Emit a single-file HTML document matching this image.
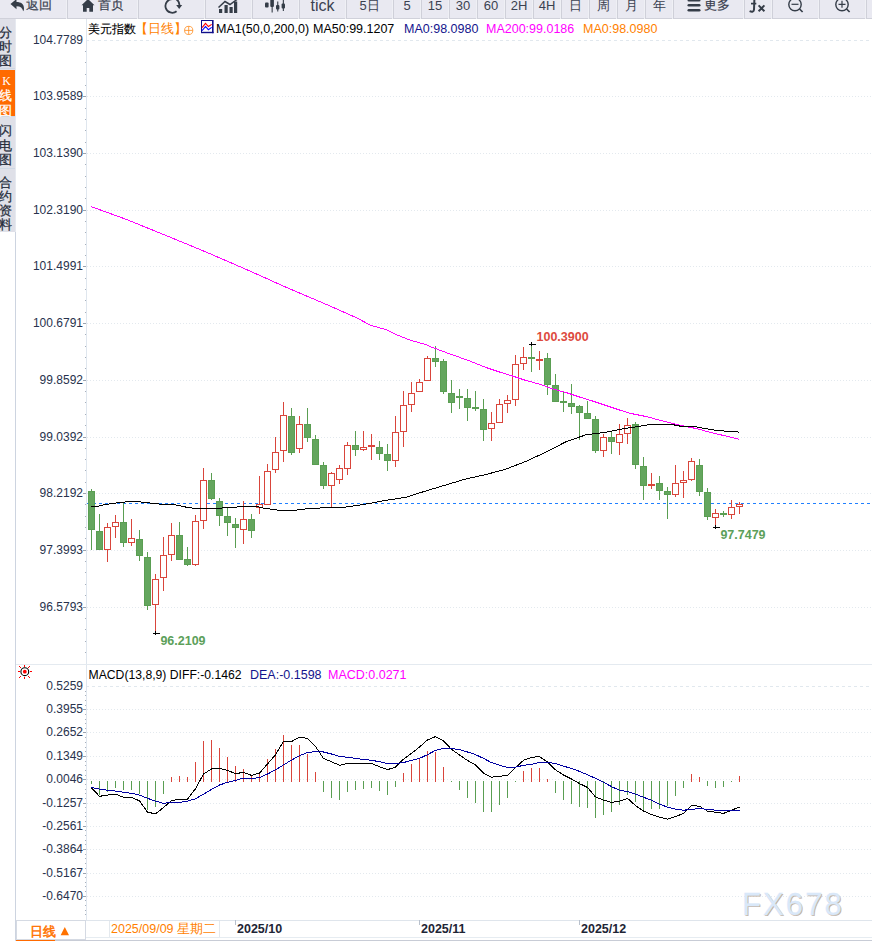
<!DOCTYPE html>
<html><head><meta charset="utf-8">
<style>
html,body{margin:0;padding:0;width:872px;height:941px;overflow:hidden;background:#fff;font-family:"Liberation Sans",sans-serif;}
.t{position:absolute;white-space:nowrap;line-height:1;}
.btn{position:absolute;top:0;height:18px;background:#e9e9f1;border-bottom:1px solid #d0d1da;}
.btn .lb{position:absolute;left:0;right:0;text-align:center;top:-1px;font-size:12.5px;color:#3b4150;white-space:nowrap;}
svg{position:absolute;left:0;top:0;overflow:visible}
</style></head><body>
<svg width="872" height="941" shape-rendering="crispEdges" font-family="Liberation Sans, sans-serif">
<line x1="86" y1="40.5" x2="869" y2="40.5" stroke="#e1e8ee" stroke-dasharray="3 3"/>
<line x1="87" y1="96.5" x2="872" y2="96.5" stroke="#e3e9ee" stroke-dasharray="1 2"/>
<line x1="87" y1="153.5" x2="872" y2="153.5" stroke="#e3e9ee" stroke-dasharray="1 2"/>
<line x1="87" y1="210.5" x2="872" y2="210.5" stroke="#e3e9ee" stroke-dasharray="1 2"/>
<line x1="87" y1="266.5" x2="872" y2="266.5" stroke="#e3e9ee" stroke-dasharray="1 2"/>
<line x1="87" y1="323.5" x2="872" y2="323.5" stroke="#e3e9ee" stroke-dasharray="1 2"/>
<line x1="87" y1="380.5" x2="872" y2="380.5" stroke="#e3e9ee" stroke-dasharray="1 2"/>
<line x1="87" y1="437.5" x2="872" y2="437.5" stroke="#e3e9ee" stroke-dasharray="1 2"/>
<line x1="87" y1="493.5" x2="872" y2="493.5" stroke="#e3e9ee" stroke-dasharray="1 2"/>
<line x1="87" y1="550.5" x2="872" y2="550.5" stroke="#e3e9ee" stroke-dasharray="1 2"/>
<line x1="87" y1="607.5" x2="872" y2="607.5" stroke="#e3e9ee" stroke-dasharray="1 2"/>
<line x1="86" y1="686.5" x2="869" y2="686.5" stroke="#e1e8ee" stroke-dasharray="3 3"/>
<line x1="87" y1="709.5" x2="872" y2="709.5" stroke="#e3e9ee" stroke-dasharray="1 2"/>
<line x1="87" y1="732.5" x2="872" y2="732.5" stroke="#e3e9ee" stroke-dasharray="1 2"/>
<line x1="87" y1="756.5" x2="872" y2="756.5" stroke="#e3e9ee" stroke-dasharray="1 2"/>
<line x1="87" y1="779.5" x2="872" y2="779.5" stroke="#e3e9ee" stroke-dasharray="1 2"/>
<line x1="87" y1="803.5" x2="872" y2="803.5" stroke="#e3e9ee" stroke-dasharray="1 2"/>
<line x1="87" y1="826.5" x2="872" y2="826.5" stroke="#e3e9ee" stroke-dasharray="1 2"/>
<line x1="87" y1="849.5" x2="872" y2="849.5" stroke="#e3e9ee" stroke-dasharray="1 2"/>
<line x1="87" y1="873.5" x2="872" y2="873.5" stroke="#e3e9ee" stroke-dasharray="1 2"/>
<line x1="87" y1="896.5" x2="872" y2="896.5" stroke="#e3e9ee" stroke-dasharray="1 2"/>
<rect x="86" y="19" width="1" height="901" fill="#dfe6ee"/>
<rect x="85" y="51" width="1" height="1" fill="#a8b0bc"/>
<rect x="85" y="62" width="1" height="1" fill="#a8b0bc"/>
<rect x="85" y="74" width="1" height="1" fill="#a8b0bc"/>
<rect x="85" y="85" width="1" height="1" fill="#a8b0bc"/>
<rect x="83" y="96" width="3" height="1" fill="#9aa3b0"/>
<rect x="85" y="108" width="1" height="1" fill="#a8b0bc"/>
<rect x="85" y="119" width="1" height="1" fill="#a8b0bc"/>
<rect x="85" y="130" width="1" height="1" fill="#a8b0bc"/>
<rect x="85" y="142" width="1" height="1" fill="#a8b0bc"/>
<rect x="83" y="153" width="3" height="1" fill="#9aa3b0"/>
<rect x="85" y="164" width="1" height="1" fill="#a8b0bc"/>
<rect x="85" y="176" width="1" height="1" fill="#a8b0bc"/>
<rect x="85" y="187" width="1" height="1" fill="#a8b0bc"/>
<rect x="85" y="198" width="1" height="1" fill="#a8b0bc"/>
<rect x="83" y="210" width="3" height="1" fill="#9aa3b0"/>
<rect x="85" y="221" width="1" height="1" fill="#a8b0bc"/>
<rect x="85" y="232" width="1" height="1" fill="#a8b0bc"/>
<rect x="85" y="244" width="1" height="1" fill="#a8b0bc"/>
<rect x="85" y="255" width="1" height="1" fill="#a8b0bc"/>
<rect x="83" y="266" width="3" height="1" fill="#9aa3b0"/>
<rect x="85" y="278" width="1" height="1" fill="#a8b0bc"/>
<rect x="85" y="289" width="1" height="1" fill="#a8b0bc"/>
<rect x="85" y="300" width="1" height="1" fill="#a8b0bc"/>
<rect x="85" y="312" width="1" height="1" fill="#a8b0bc"/>
<rect x="83" y="323" width="3" height="1" fill="#9aa3b0"/>
<rect x="85" y="334" width="1" height="1" fill="#a8b0bc"/>
<rect x="85" y="346" width="1" height="1" fill="#a8b0bc"/>
<rect x="85" y="357" width="1" height="1" fill="#a8b0bc"/>
<rect x="85" y="368" width="1" height="1" fill="#a8b0bc"/>
<rect x="83" y="380" width="3" height="1" fill="#9aa3b0"/>
<rect x="85" y="391" width="1" height="1" fill="#a8b0bc"/>
<rect x="85" y="402" width="1" height="1" fill="#a8b0bc"/>
<rect x="85" y="414" width="1" height="1" fill="#a8b0bc"/>
<rect x="85" y="425" width="1" height="1" fill="#a8b0bc"/>
<rect x="83" y="437" width="3" height="1" fill="#9aa3b0"/>
<rect x="85" y="448" width="1" height="1" fill="#a8b0bc"/>
<rect x="85" y="459" width="1" height="1" fill="#a8b0bc"/>
<rect x="85" y="470" width="1" height="1" fill="#a8b0bc"/>
<rect x="85" y="482" width="1" height="1" fill="#a8b0bc"/>
<rect x="83" y="493" width="3" height="1" fill="#9aa3b0"/>
<rect x="85" y="504" width="1" height="1" fill="#a8b0bc"/>
<rect x="85" y="516" width="1" height="1" fill="#a8b0bc"/>
<rect x="85" y="527" width="1" height="1" fill="#a8b0bc"/>
<rect x="85" y="538" width="1" height="1" fill="#a8b0bc"/>
<rect x="83" y="550" width="3" height="1" fill="#9aa3b0"/>
<rect x="85" y="561" width="1" height="1" fill="#a8b0bc"/>
<rect x="85" y="572" width="1" height="1" fill="#a8b0bc"/>
<rect x="85" y="584" width="1" height="1" fill="#a8b0bc"/>
<rect x="85" y="595" width="1" height="1" fill="#a8b0bc"/>
<rect x="83" y="607" width="3" height="1" fill="#9aa3b0"/>
<rect x="85" y="618" width="1" height="1" fill="#a8b0bc"/>
<rect x="85" y="629" width="1" height="1" fill="#a8b0bc"/>
<rect x="85" y="641" width="1" height="1" fill="#a8b0bc"/>
<rect x="85" y="652" width="1" height="1" fill="#a8b0bc"/>
<rect x="85" y="691" width="1" height="1" fill="#a8b0bc"/>
<rect x="85" y="695" width="1" height="1" fill="#a8b0bc"/>
<rect x="85" y="700" width="1" height="1" fill="#a8b0bc"/>
<rect x="85" y="705" width="1" height="1" fill="#a8b0bc"/>
<rect x="83" y="709" width="3" height="1" fill="#9aa3b0"/>
<rect x="85" y="714" width="1" height="1" fill="#a8b0bc"/>
<rect x="85" y="719" width="1" height="1" fill="#a8b0bc"/>
<rect x="85" y="723" width="1" height="1" fill="#a8b0bc"/>
<rect x="85" y="728" width="1" height="1" fill="#a8b0bc"/>
<rect x="83" y="732" width="3" height="1" fill="#9aa3b0"/>
<rect x="85" y="737" width="1" height="1" fill="#a8b0bc"/>
<rect x="85" y="742" width="1" height="1" fill="#a8b0bc"/>
<rect x="85" y="747" width="1" height="1" fill="#a8b0bc"/>
<rect x="85" y="751" width="1" height="1" fill="#a8b0bc"/>
<rect x="83" y="756" width="3" height="1" fill="#9aa3b0"/>
<rect x="85" y="761" width="1" height="1" fill="#a8b0bc"/>
<rect x="85" y="765" width="1" height="1" fill="#a8b0bc"/>
<rect x="85" y="770" width="1" height="1" fill="#a8b0bc"/>
<rect x="85" y="775" width="1" height="1" fill="#a8b0bc"/>
<rect x="83" y="779" width="3" height="1" fill="#9aa3b0"/>
<rect x="85" y="784" width="1" height="1" fill="#a8b0bc"/>
<rect x="85" y="789" width="1" height="1" fill="#a8b0bc"/>
<rect x="85" y="793" width="1" height="1" fill="#a8b0bc"/>
<rect x="85" y="798" width="1" height="1" fill="#a8b0bc"/>
<rect x="83" y="803" width="3" height="1" fill="#9aa3b0"/>
<rect x="85" y="807" width="1" height="1" fill="#a8b0bc"/>
<rect x="85" y="812" width="1" height="1" fill="#a8b0bc"/>
<rect x="85" y="816" width="1" height="1" fill="#a8b0bc"/>
<rect x="85" y="821" width="1" height="1" fill="#a8b0bc"/>
<rect x="83" y="826" width="3" height="1" fill="#9aa3b0"/>
<rect x="85" y="830" width="1" height="1" fill="#a8b0bc"/>
<rect x="85" y="835" width="1" height="1" fill="#a8b0bc"/>
<rect x="85" y="840" width="1" height="1" fill="#a8b0bc"/>
<rect x="85" y="844" width="1" height="1" fill="#a8b0bc"/>
<rect x="83" y="849" width="3" height="1" fill="#9aa3b0"/>
<rect x="85" y="854" width="1" height="1" fill="#a8b0bc"/>
<rect x="85" y="858" width="1" height="1" fill="#a8b0bc"/>
<rect x="85" y="863" width="1" height="1" fill="#a8b0bc"/>
<rect x="85" y="868" width="1" height="1" fill="#a8b0bc"/>
<rect x="83" y="873" width="3" height="1" fill="#9aa3b0"/>
<rect x="85" y="877" width="1" height="1" fill="#a8b0bc"/>
<rect x="85" y="882" width="1" height="1" fill="#a8b0bc"/>
<rect x="85" y="886" width="1" height="1" fill="#a8b0bc"/>
<rect x="85" y="891" width="1" height="1" fill="#a8b0bc"/>
<rect x="83" y="896" width="3" height="1" fill="#9aa3b0"/>
<rect x="85" y="900" width="1" height="1" fill="#a8b0bc"/>
<rect x="85" y="905" width="1" height="1" fill="#a8b0bc"/>
<rect x="85" y="910" width="1" height="1" fill="#a8b0bc"/>
<rect x="85" y="914" width="1" height="1" fill="#a8b0bc"/>
<line x1="87" y1="503.5" x2="870" y2="503.5" stroke="#2080ff" stroke-dasharray="3 3"/>
<rect x="91" y="489" width="1" height="61" fill="#5a9e52"/>
<rect x="88" y="491" width="7" height="39" fill="#5a9e52"/>
<rect x="89" y="492" width="5" height="37" fill="#64a65e"/>
<rect x="99" y="514" width="1" height="36" fill="#5a9e52"/>
<rect x="96" y="531" width="7" height="19" fill="#5a9e52"/>
<rect x="97" y="532" width="5" height="17" fill="#64a65e"/>
<rect x="107" y="523" width="1" height="4" fill="#d9453b"/>
<rect x="107" y="550" width="1" height="12" fill="#d9453b"/>
<rect x="104.5" y="527.5" width="6" height="22" fill="#fff" stroke="#d9453b" stroke-width="1"/>
<rect x="115" y="515" width="1" height="7" fill="#d9453b"/>
<rect x="115" y="527" width="1" height="11" fill="#d9453b"/>
<rect x="112.5" y="522.5" width="6" height="4" fill="#fff" stroke="#d9453b" stroke-width="1"/>
<rect x="123" y="503" width="1" height="44" fill="#5a9e52"/>
<rect x="120" y="522" width="7" height="21" fill="#5a9e52"/>
<rect x="121" y="523" width="5" height="19" fill="#64a65e"/>
<rect x="131" y="519" width="1" height="19" fill="#d9453b"/>
<rect x="131" y="543" width="1" height="3" fill="#d9453b"/>
<rect x="128.5" y="538.5" width="6" height="4" fill="#fff" stroke="#d9453b" stroke-width="1"/>
<rect x="139" y="530" width="1" height="31" fill="#5a9e52"/>
<rect x="136" y="539" width="7" height="17" fill="#5a9e52"/>
<rect x="137" y="540" width="5" height="15" fill="#64a65e"/>
<rect x="147" y="552" width="1" height="58" fill="#5a9e52"/>
<rect x="144" y="557" width="7" height="49" fill="#5a9e52"/>
<rect x="145" y="558" width="5" height="47" fill="#64a65e"/>
<rect x="155" y="574" width="1" height="6" fill="#d9453b"/>
<rect x="155" y="605" width="1" height="26" fill="#d9453b"/>
<rect x="152.5" y="579.5" width="6" height="25" fill="#fff" stroke="#d9453b" stroke-width="1"/>
<rect x="163" y="537" width="1" height="18" fill="#d9453b"/>
<rect x="163" y="578" width="1" height="13" fill="#d9453b"/>
<rect x="160.5" y="555.5" width="6" height="22" fill="#fff" stroke="#d9453b" stroke-width="1"/>
<rect x="171" y="523" width="1" height="12" fill="#d9453b"/>
<rect x="171" y="555" width="1" height="6" fill="#d9453b"/>
<rect x="168.5" y="535.5" width="6" height="19" fill="#fff" stroke="#d9453b" stroke-width="1"/>
<rect x="179" y="522" width="1" height="38" fill="#5a9e52"/>
<rect x="176" y="535" width="7" height="25" fill="#5a9e52"/>
<rect x="177" y="536" width="5" height="23" fill="#64a65e"/>
<rect x="187" y="547" width="1" height="19" fill="#5a9e52"/>
<rect x="184" y="559" width="7" height="6" fill="#5a9e52"/>
<rect x="185" y="560" width="5" height="4" fill="#64a65e"/>
<rect x="195" y="515" width="1" height="6" fill="#d9453b"/>
<rect x="195" y="565" width="1" height="1" fill="#d9453b"/>
<rect x="192.5" y="521.5" width="6" height="43" fill="#fff" stroke="#d9453b" stroke-width="1"/>
<rect x="203" y="468" width="1" height="12" fill="#d9453b"/>
<rect x="203" y="521" width="1" height="8" fill="#d9453b"/>
<rect x="200.5" y="480.5" width="6" height="40" fill="#fff" stroke="#d9453b" stroke-width="1"/>
<rect x="211" y="473" width="1" height="27" fill="#5a9e52"/>
<rect x="208" y="480" width="7" height="19" fill="#5a9e52"/>
<rect x="209" y="481" width="5" height="17" fill="#64a65e"/>
<rect x="219" y="498" width="1" height="28" fill="#5a9e52"/>
<rect x="216" y="501" width="7" height="15" fill="#5a9e52"/>
<rect x="217" y="502" width="5" height="13" fill="#64a65e"/>
<rect x="227" y="507" width="1" height="29" fill="#5a9e52"/>
<rect x="224" y="516" width="7" height="7" fill="#5a9e52"/>
<rect x="225" y="517" width="5" height="5" fill="#64a65e"/>
<rect x="235" y="518" width="1" height="30" fill="#5a9e52"/>
<rect x="232" y="524" width="7" height="4" fill="#5a9e52"/>
<rect x="233" y="525" width="5" height="2" fill="#64a65e"/>
<rect x="243" y="501" width="1" height="19" fill="#d9453b"/>
<rect x="243" y="530" width="1" height="14" fill="#d9453b"/>
<rect x="240.5" y="519.5" width="6" height="10" fill="#fff" stroke="#d9453b" stroke-width="1"/>
<rect x="251" y="514" width="1" height="24" fill="#5a9e52"/>
<rect x="248" y="519" width="7" height="12" fill="#5a9e52"/>
<rect x="249" y="520" width="5" height="10" fill="#64a65e"/>
<rect x="259" y="476" width="1" height="28" fill="#d9453b"/>
<rect x="259" y="508" width="1" height="6" fill="#d9453b"/>
<rect x="256.5" y="504.5" width="6" height="3" fill="#fff" stroke="#d9453b" stroke-width="1"/>
<rect x="267" y="464" width="1" height="8" fill="#d9453b"/>
<rect x="264.5" y="471.5" width="6" height="33" fill="#fff" stroke="#d9453b" stroke-width="1"/>
<rect x="275" y="437" width="1" height="15" fill="#d9453b"/>
<rect x="275" y="470" width="1" height="3" fill="#d9453b"/>
<rect x="272.5" y="452.5" width="6" height="17" fill="#fff" stroke="#d9453b" stroke-width="1"/>
<rect x="283" y="402" width="1" height="13" fill="#d9453b"/>
<rect x="283" y="451" width="1" height="11" fill="#d9453b"/>
<rect x="280.5" y="415.5" width="6" height="35" fill="#fff" stroke="#d9453b" stroke-width="1"/>
<rect x="291" y="408" width="1" height="47" fill="#5a9e52"/>
<rect x="288" y="416" width="7" height="37" fill="#5a9e52"/>
<rect x="289" y="417" width="5" height="35" fill="#64a65e"/>
<rect x="299" y="416" width="1" height="8" fill="#d9453b"/>
<rect x="299" y="449" width="1" height="4" fill="#d9453b"/>
<rect x="296.5" y="424.5" width="6" height="24" fill="#fff" stroke="#d9453b" stroke-width="1"/>
<rect x="307" y="408" width="1" height="34" fill="#5a9e52"/>
<rect x="304" y="424" width="7" height="14" fill="#5a9e52"/>
<rect x="305" y="425" width="5" height="12" fill="#64a65e"/>
<rect x="315" y="435" width="1" height="30" fill="#5a9e52"/>
<rect x="312" y="439" width="7" height="26" fill="#5a9e52"/>
<rect x="313" y="440" width="5" height="24" fill="#64a65e"/>
<rect x="323" y="462" width="1" height="27" fill="#5a9e52"/>
<rect x="320" y="465" width="7" height="21" fill="#5a9e52"/>
<rect x="321" y="466" width="5" height="19" fill="#64a65e"/>
<rect x="331" y="472" width="1" height="1" fill="#d9453b"/>
<rect x="331" y="486" width="1" height="22" fill="#d9453b"/>
<rect x="328.5" y="473.5" width="6" height="12" fill="#fff" stroke="#d9453b" stroke-width="1"/>
<rect x="339" y="465" width="1" height="3" fill="#d9453b"/>
<rect x="339" y="480" width="1" height="4" fill="#d9453b"/>
<rect x="336.5" y="468.5" width="6" height="11" fill="#fff" stroke="#d9453b" stroke-width="1"/>
<rect x="347" y="442" width="1" height="3" fill="#d9453b"/>
<rect x="347" y="469" width="1" height="6" fill="#d9453b"/>
<rect x="344.5" y="445.5" width="6" height="23" fill="#fff" stroke="#d9453b" stroke-width="1"/>
<rect x="355" y="431" width="1" height="25" fill="#5a9e52"/>
<rect x="352" y="445" width="7" height="5" fill="#5a9e52"/>
<rect x="353" y="446" width="5" height="3" fill="#64a65e"/>
<rect x="363" y="431" width="1" height="16" fill="#d9453b"/>
<rect x="363" y="450" width="1" height="1" fill="#d9453b"/>
<rect x="360.5" y="447.5" width="6" height="2" fill="#fff" stroke="#d9453b" stroke-width="1"/>
<rect x="371" y="434" width="1" height="26" fill="#d9453b"/>
<rect x="368" y="445" width="7" height="2" fill="#d9453b"/>
<rect x="379" y="441" width="1" height="19" fill="#5a9e52"/>
<rect x="376" y="447" width="7" height="7" fill="#5a9e52"/>
<rect x="377" y="448" width="5" height="5" fill="#64a65e"/>
<rect x="387" y="444" width="1" height="27" fill="#5a9e52"/>
<rect x="384" y="454" width="7" height="7" fill="#5a9e52"/>
<rect x="385" y="455" width="5" height="5" fill="#64a65e"/>
<rect x="395" y="416" width="1" height="16" fill="#d9453b"/>
<rect x="395" y="461" width="1" height="6" fill="#d9453b"/>
<rect x="392.5" y="432.5" width="6" height="28" fill="#fff" stroke="#d9453b" stroke-width="1"/>
<rect x="403" y="391" width="1" height="14" fill="#d9453b"/>
<rect x="403" y="432" width="1" height="15" fill="#d9453b"/>
<rect x="400.5" y="405.5" width="6" height="26" fill="#fff" stroke="#d9453b" stroke-width="1"/>
<rect x="411" y="382" width="1" height="11" fill="#d9453b"/>
<rect x="411" y="405" width="1" height="7" fill="#d9453b"/>
<rect x="408.5" y="393.5" width="6" height="11" fill="#fff" stroke="#d9453b" stroke-width="1"/>
<rect x="419" y="379" width="1" height="3" fill="#d9453b"/>
<rect x="416.5" y="382.5" width="6" height="9" fill="#fff" stroke="#d9453b" stroke-width="1"/>
<rect x="427" y="356" width="1" height="2" fill="#d9453b"/>
<rect x="424.5" y="358.5" width="6" height="22" fill="#fff" stroke="#d9453b" stroke-width="1"/>
<rect x="435" y="346" width="1" height="21" fill="#5a9e52"/>
<rect x="432" y="358" width="7" height="4" fill="#5a9e52"/>
<rect x="433" y="359" width="5" height="2" fill="#64a65e"/>
<rect x="443" y="359" width="1" height="35" fill="#5a9e52"/>
<rect x="440" y="361" width="7" height="31" fill="#5a9e52"/>
<rect x="441" y="362" width="5" height="29" fill="#64a65e"/>
<rect x="451" y="380" width="1" height="33" fill="#5a9e52"/>
<rect x="448" y="393" width="7" height="10" fill="#5a9e52"/>
<rect x="449" y="394" width="5" height="8" fill="#64a65e"/>
<rect x="459" y="389" width="1" height="20" fill="#5a9e52"/>
<rect x="456" y="396" width="7" height="2" fill="#5a9e52"/>
<rect x="467" y="389" width="1" height="32" fill="#5a9e52"/>
<rect x="464" y="398" width="7" height="10" fill="#5a9e52"/>
<rect x="465" y="399" width="5" height="8" fill="#64a65e"/>
<rect x="475" y="391" width="1" height="20" fill="#5a9e52"/>
<rect x="472" y="407" width="7" height="2" fill="#5a9e52"/>
<rect x="483" y="399" width="1" height="42" fill="#5a9e52"/>
<rect x="480" y="409" width="7" height="21" fill="#5a9e52"/>
<rect x="481" y="410" width="5" height="19" fill="#64a65e"/>
<rect x="491" y="412" width="1" height="11" fill="#d9453b"/>
<rect x="491" y="429" width="1" height="12" fill="#d9453b"/>
<rect x="488.5" y="423.5" width="6" height="5" fill="#fff" stroke="#d9453b" stroke-width="1"/>
<rect x="499" y="399" width="1" height="5" fill="#d9453b"/>
<rect x="496.5" y="404.5" width="6" height="18" fill="#fff" stroke="#d9453b" stroke-width="1"/>
<rect x="507" y="395" width="1" height="6" fill="#d9453b"/>
<rect x="507" y="404" width="1" height="9" fill="#d9453b"/>
<rect x="504.5" y="400.5" width="6" height="3" fill="#fff" stroke="#d9453b" stroke-width="1"/>
<rect x="515" y="355" width="1" height="9" fill="#d9453b"/>
<rect x="515" y="400" width="1" height="6" fill="#d9453b"/>
<rect x="512.5" y="364.5" width="6" height="35" fill="#fff" stroke="#d9453b" stroke-width="1"/>
<rect x="523" y="347" width="1" height="10" fill="#d9453b"/>
<rect x="523" y="364" width="1" height="6" fill="#d9453b"/>
<rect x="520.5" y="357.5" width="6" height="6" fill="#fff" stroke="#d9453b" stroke-width="1"/>
<rect x="531" y="344" width="1" height="28" fill="#5a9e52"/>
<rect x="528" y="357" width="7" height="2" fill="#5a9e52"/>
<rect x="539" y="351" width="1" height="19" fill="#d9453b"/>
<rect x="536" y="359" width="7" height="2" fill="#d9453b"/>
<rect x="547" y="353" width="1" height="42" fill="#5a9e52"/>
<rect x="544" y="358" width="7" height="27" fill="#5a9e52"/>
<rect x="545" y="359" width="5" height="25" fill="#64a65e"/>
<rect x="555" y="374" width="1" height="28" fill="#5a9e52"/>
<rect x="552" y="385" width="7" height="17" fill="#5a9e52"/>
<rect x="553" y="386" width="5" height="15" fill="#64a65e"/>
<rect x="563" y="391" width="1" height="21" fill="#5a9e52"/>
<rect x="560" y="401" width="7" height="2" fill="#5a9e52"/>
<rect x="571" y="384" width="1" height="30" fill="#5a9e52"/>
<rect x="568" y="403" width="7" height="4" fill="#5a9e52"/>
<rect x="569" y="404" width="5" height="2" fill="#64a65e"/>
<rect x="579" y="405" width="1" height="35" fill="#5a9e52"/>
<rect x="576" y="406" width="7" height="7" fill="#5a9e52"/>
<rect x="577" y="407" width="5" height="5" fill="#64a65e"/>
<rect x="587" y="401" width="1" height="18" fill="#5a9e52"/>
<rect x="584" y="413" width="7" height="6" fill="#5a9e52"/>
<rect x="585" y="414" width="5" height="4" fill="#64a65e"/>
<rect x="595" y="416" width="1" height="37" fill="#5a9e52"/>
<rect x="592" y="419" width="7" height="32" fill="#5a9e52"/>
<rect x="593" y="420" width="5" height="30" fill="#64a65e"/>
<rect x="603" y="434" width="1" height="3" fill="#d9453b"/>
<rect x="603" y="451" width="1" height="6" fill="#d9453b"/>
<rect x="600.5" y="437.5" width="6" height="13" fill="#fff" stroke="#d9453b" stroke-width="1"/>
<rect x="611" y="432" width="1" height="22" fill="#5a9e52"/>
<rect x="608" y="437" width="7" height="5" fill="#5a9e52"/>
<rect x="609" y="438" width="5" height="3" fill="#64a65e"/>
<rect x="619" y="424" width="1" height="10" fill="#d9453b"/>
<rect x="619" y="443" width="1" height="12" fill="#d9453b"/>
<rect x="616.5" y="434.5" width="6" height="8" fill="#fff" stroke="#d9453b" stroke-width="1"/>
<rect x="627" y="418" width="1" height="7" fill="#d9453b"/>
<rect x="627" y="434" width="1" height="10" fill="#d9453b"/>
<rect x="624.5" y="425.5" width="6" height="8" fill="#fff" stroke="#d9453b" stroke-width="1"/>
<rect x="635" y="422" width="1" height="47" fill="#5a9e52"/>
<rect x="632" y="424" width="7" height="41" fill="#5a9e52"/>
<rect x="633" y="425" width="5" height="39" fill="#64a65e"/>
<rect x="643" y="457" width="1" height="43" fill="#5a9e52"/>
<rect x="640" y="466" width="7" height="20" fill="#5a9e52"/>
<rect x="641" y="467" width="5" height="18" fill="#64a65e"/>
<rect x="651" y="473" width="1" height="16" fill="#d9453b"/>
<rect x="648" y="484" width="7" height="2" fill="#d9453b"/>
<rect x="659" y="476" width="1" height="24" fill="#5a9e52"/>
<rect x="656" y="483" width="7" height="8" fill="#5a9e52"/>
<rect x="657" y="484" width="5" height="6" fill="#64a65e"/>
<rect x="667" y="487" width="1" height="32" fill="#5a9e52"/>
<rect x="664" y="491" width="7" height="4" fill="#5a9e52"/>
<rect x="665" y="492" width="5" height="2" fill="#64a65e"/>
<rect x="675" y="465" width="1" height="18" fill="#d9453b"/>
<rect x="675" y="495" width="1" height="2" fill="#d9453b"/>
<rect x="672.5" y="483.5" width="6" height="11" fill="#fff" stroke="#d9453b" stroke-width="1"/>
<rect x="683" y="471" width="1" height="9" fill="#d9453b"/>
<rect x="683" y="483" width="1" height="15" fill="#d9453b"/>
<rect x="680.5" y="480.5" width="6" height="2" fill="#fff" stroke="#d9453b" stroke-width="1"/>
<rect x="691" y="458" width="1" height="3" fill="#d9453b"/>
<rect x="691" y="480" width="1" height="1" fill="#d9453b"/>
<rect x="688.5" y="461.5" width="6" height="18" fill="#fff" stroke="#d9453b" stroke-width="1"/>
<rect x="699" y="459" width="1" height="37" fill="#5a9e52"/>
<rect x="696" y="465" width="7" height="27" fill="#5a9e52"/>
<rect x="697" y="466" width="5" height="25" fill="#64a65e"/>
<rect x="707" y="488" width="1" height="32" fill="#5a9e52"/>
<rect x="704" y="492" width="7" height="25" fill="#5a9e52"/>
<rect x="705" y="493" width="5" height="23" fill="#64a65e"/>
<rect x="715" y="509" width="1" height="4" fill="#d9453b"/>
<rect x="715" y="518" width="1" height="9" fill="#d9453b"/>
<rect x="712.5" y="513.5" width="6" height="4" fill="#fff" stroke="#d9453b" stroke-width="1"/>
<rect x="723" y="511" width="1" height="6" fill="#5a9e52"/>
<rect x="720" y="513" width="7" height="2" fill="#5a9e52"/>
<rect x="731" y="500" width="1" height="7" fill="#d9453b"/>
<rect x="731" y="515" width="1" height="4" fill="#d9453b"/>
<rect x="728.5" y="507.5" width="6" height="7" fill="#fff" stroke="#d9453b" stroke-width="1"/>
<rect x="739" y="502" width="1" height="2" fill="#d9453b"/>
<rect x="739" y="507" width="1" height="7" fill="#d9453b"/>
<rect x="736.5" y="504.5" width="6" height="2" fill="#fff" stroke="#d9453b" stroke-width="1"/>
<rect x="153" y="633" width="7" height="1.2" fill="#000"/>
<rect x="155" y="631" width="1.2" height="4" fill="#000"/>
<rect x="713" y="527" width="7" height="1.2" fill="#000"/>
<rect x="715" y="525" width="1.2" height="4" fill="#000"/>
<rect x="529" y="344" width="7" height="1.2" fill="#000"/>
<rect x="531" y="342" width="1.2" height="4" fill="#000"/>
<polyline points="91,206.5 126,219.3 166,235.5 206,252 246,269.3 286,287.2 326,304.3 356,317.5 371,325.5 386,329.5 396,334.5 411,340.5 426,344.5 430,346.5 446,352.5 460,357.5 471,361.5 486,367.5 501,372.5 511,375.5 526,380.5 541,384.5 551,388.5 566,392.5 581,397.5 591,400.5 606,405.5 621,410.5 631,413.5 646,416.5 661,420.5 681,425.5 696,428.5 711,432.5 739,439.2" fill="none" stroke="#ff00ff" stroke-width="1"/>
<polyline points="91,506.4 98,506.3 106,504.4 119.5,502.5 134.5,501.2 146,502.6 160.3,504.2 175.4,504.9 186.4,507.2 193.3,508.2 206,508.2 230.8,507.9 239,506.8 255.5,506.2 263.8,508.2 272,509.3 280.3,510.4 294,510.4 310.5,508.3 326,507.8 343,507.4 366,504.1 386,500.3 406,497.3 426,490.9 446,484.9 466,478.9 486,474.5 506,469.1 526,461.3 546,452.1 566,441.7 586,434.8 606,432.3 626,428.3 646,425.3 650,424.4 672,424.5 680,426.1 696,426.9 716,430.4 739,432.1" fill="none" stroke="#000" stroke-width="1"/>
<rect x="91" y="781" width="1" height="3" fill="#5a9e52"/>
<rect x="99" y="781" width="1" height="14" fill="#5a9e52"/>
<rect x="107" y="781" width="1" height="11" fill="#5a9e52"/>
<rect x="115" y="781" width="1" height="7" fill="#5a9e52"/>
<rect x="123" y="781" width="1" height="9" fill="#5a9e52"/>
<rect x="131" y="781" width="1" height="9" fill="#5a9e52"/>
<rect x="139" y="781" width="1" height="13" fill="#5a9e52"/>
<rect x="147" y="781" width="1" height="29" fill="#5a9e52"/>
<rect x="155" y="781" width="1" height="26" fill="#5a9e52"/>
<rect x="163" y="781" width="1" height="13" fill="#5a9e52"/>
<rect x="171" y="777" width="1" height="5" fill="#d9453b"/>
<rect x="179" y="776" width="1" height="6" fill="#d9453b"/>
<rect x="187" y="777" width="1" height="5" fill="#d9453b"/>
<rect x="195" y="762" width="1" height="20" fill="#d9453b"/>
<rect x="203" y="741" width="1" height="41" fill="#d9453b"/>
<rect x="211" y="740" width="1" height="42" fill="#d9453b"/>
<rect x="219" y="748" width="1" height="34" fill="#d9453b"/>
<rect x="227" y="757" width="1" height="25" fill="#d9453b"/>
<rect x="235" y="766" width="1" height="16" fill="#d9453b"/>
<rect x="243" y="769" width="1" height="13" fill="#d9453b"/>
<rect x="251" y="776" width="1" height="6" fill="#d9453b"/>
<rect x="259" y="772" width="1" height="10" fill="#d9453b"/>
<rect x="267" y="759" width="1" height="23" fill="#d9453b"/>
<rect x="275" y="749" width="1" height="33" fill="#d9453b"/>
<rect x="283" y="735" width="1" height="47" fill="#d9453b"/>
<rect x="291" y="745" width="1" height="37" fill="#d9453b"/>
<rect x="299" y="745" width="1" height="37" fill="#d9453b"/>
<rect x="307" y="754" width="1" height="28" fill="#d9453b"/>
<rect x="315" y="772" width="1" height="10" fill="#d9453b"/>
<rect x="323" y="781" width="1" height="11" fill="#5a9e52"/>
<rect x="331" y="781" width="1" height="17" fill="#5a9e52"/>
<rect x="339" y="781" width="1" height="19" fill="#5a9e52"/>
<rect x="347" y="781" width="1" height="11" fill="#5a9e52"/>
<rect x="355" y="781" width="1" height="9" fill="#5a9e52"/>
<rect x="363" y="781" width="1" height="8" fill="#5a9e52"/>
<rect x="371" y="781" width="1" height="7" fill="#5a9e52"/>
<rect x="379" y="781" width="1" height="10" fill="#5a9e52"/>
<rect x="387" y="781" width="1" height="14" fill="#5a9e52"/>
<rect x="395" y="781" width="1" height="6" fill="#5a9e52"/>
<rect x="403" y="773" width="1" height="9" fill="#d9453b"/>
<rect x="411" y="764" width="1" height="18" fill="#d9453b"/>
<rect x="419" y="758" width="1" height="24" fill="#d9453b"/>
<rect x="427" y="751" width="1" height="31" fill="#d9453b"/>
<rect x="435" y="752" width="1" height="30" fill="#d9453b"/>
<rect x="443" y="767" width="1" height="15" fill="#d9453b"/>
<rect x="451" y="781" width="1" height="1" fill="#5a9e52"/>
<rect x="459" y="781" width="1" height="9" fill="#5a9e52"/>
<rect x="467" y="781" width="1" height="17" fill="#5a9e52"/>
<rect x="475" y="781" width="1" height="22" fill="#5a9e52"/>
<rect x="483" y="781" width="1" height="31" fill="#5a9e52"/>
<rect x="491" y="781" width="1" height="31" fill="#5a9e52"/>
<rect x="499" y="781" width="1" height="24" fill="#5a9e52"/>
<rect x="507" y="781" width="1" height="17" fill="#5a9e52"/>
<rect x="515" y="781" width="1" height="1" fill="#5a9e52"/>
<rect x="523" y="771" width="1" height="11" fill="#d9453b"/>
<rect x="531" y="768" width="1" height="14" fill="#d9453b"/>
<rect x="539" y="768" width="1" height="14" fill="#d9453b"/>
<rect x="547" y="779" width="1" height="3" fill="#d9453b"/>
<rect x="555" y="781" width="1" height="12" fill="#5a9e52"/>
<rect x="563" y="781" width="1" height="19" fill="#5a9e52"/>
<rect x="571" y="781" width="1" height="23" fill="#5a9e52"/>
<rect x="579" y="781" width="1" height="26" fill="#5a9e52"/>
<rect x="587" y="781" width="1" height="27" fill="#5a9e52"/>
<rect x="595" y="781" width="1" height="37" fill="#5a9e52"/>
<rect x="603" y="781" width="1" height="34" fill="#5a9e52"/>
<rect x="611" y="781" width="1" height="31" fill="#5a9e52"/>
<rect x="619" y="781" width="1" height="24" fill="#5a9e52"/>
<rect x="627" y="781" width="1" height="14" fill="#5a9e52"/>
<rect x="635" y="781" width="1" height="21" fill="#5a9e52"/>
<rect x="643" y="781" width="1" height="29" fill="#5a9e52"/>
<rect x="651" y="781" width="1" height="28" fill="#5a9e52"/>
<rect x="659" y="781" width="1" height="28" fill="#5a9e52"/>
<rect x="667" y="781" width="1" height="25" fill="#5a9e52"/>
<rect x="675" y="781" width="1" height="15" fill="#5a9e52"/>
<rect x="683" y="781" width="1" height="7" fill="#5a9e52"/>
<rect x="691" y="774" width="1" height="8" fill="#d9453b"/>
<rect x="699" y="777" width="1" height="5" fill="#d9453b"/>
<rect x="707" y="781" width="1" height="5" fill="#5a9e52"/>
<rect x="715" y="781" width="1" height="7" fill="#5a9e52"/>
<rect x="723" y="781" width="1" height="6" fill="#5a9e52"/>
<rect x="731" y="781" width="1" height="1" fill="#5a9e52"/>
<rect x="739" y="776" width="1" height="6" fill="#d9453b"/>
<polyline points="91.5,787.8 99.5,796.3 107.5,795.1 115.5,794.2 123.5,797.2 131.5,797.4 139.5,800.9 147.5,812.1 155.5,813.9 163.5,807.5 171.5,800.5 179.5,799.4 187.5,799.3 195.5,788.7 203.5,774 211.5,769 219.5,768.5 227.5,770.4 235.5,773.6 243.5,772.4 251.5,775.4 259.5,773.1 267.5,764 275.5,754.8 283.5,741.5 291.5,741.5 299.5,737.3 307.5,738.4 315.5,746.5 323.5,758.4 331.5,761.7 339.5,765.3 347.5,763.5 355.5,763.5 363.5,763.5 371.5,763.5 379.5,766.7 387.5,769.6 395.5,767.2 403.5,759.2 411.5,753.4 419.5,747 427.5,739.9 435.5,736.6 443.5,741 451.5,749.3 459.5,755 467.5,760.5 475.5,764.9 483.5,773.1 491.5,777.2 499.5,776.3 507.5,775.4 515.5,767.6 523.5,760.3 531.5,757.3 539.5,756.6 547.5,762.1 555.5,769.9 563.5,775 571.5,779 579.5,783.6 587.5,787.5 595.5,796.9 603.5,800.1 611.5,802.4 619.5,801.3 627.5,798.3 635.5,805.6 643.5,811.1 651.5,814.5 659.5,817.1 667.5,819.1 675.5,816.6 683.5,813.4 691.5,805.4 699.5,806.3 707.5,811.1 715.5,812.2 723.5,813.4 731.5,810.2 739.5,807.1" fill="none" stroke="#000" stroke-width="1"/>
<polyline points="91.5,787.5 99.5,789.1 107.5,790.3 115.5,791.1 123.5,792.3 131.5,793.3 139.5,795.1 147.5,798.3 155.5,801.1 163.5,803.3 171.5,802.5 179.5,802.5 187.5,801.1 195.5,798.8 203.5,794.2 211.5,789.4 219.5,785 227.5,782.3 235.5,780.3 243.5,778.2 251.5,778.6 259.5,777.5 267.5,774 275.5,769.9 283.5,764.9 291.5,760.1 299.5,755.7 307.5,752.5 315.5,751.6 323.5,752 331.5,754 339.5,756.4 347.5,757.3 355.5,758.4 363.5,759.4 371.5,760.3 379.5,761.7 387.5,763.5 395.5,763.5 403.5,762.6 411.5,760.3 419.5,758.4 427.5,754.6 435.5,750.4 443.5,748.5 451.5,748.5 459.5,749.7 467.5,752 475.5,754.6 483.5,758.4 491.5,762.6 499.5,765.3 507.5,767.4 515.5,767.2 523.5,765.3 531.5,764.4 539.5,762.3 547.5,762.3 555.5,763.5 563.5,766.2 571.5,768.4 579.5,771.4 587.5,774.7 595.5,778.3 603.5,782.2 611.5,786.6 619.5,790.3 627.5,791.6 635.5,794.1 643.5,797.3 651.5,800.2 659.5,804.2 667.5,807.1 675.5,809.2 683.5,810.2 691.5,809.4 699.5,808.6 707.5,809.4 715.5,810.2 723.5,810.5 731.5,810.2 739.5,810.2" fill="none" stroke="#0000a0" stroke-width="1"/>
<rect x="16" y="664" width="856" height="1" fill="#e4eaf0"/>
<rect x="15" y="232" width="1" height="709" fill="#cdd4e0"/>
<rect x="16" y="920" width="856" height="1" fill="#dfe5ec"/>
<g shape-rendering="auto">
<text x="83" y="44" font-size="12" fill="#28324d" font-weight="normal" text-anchor="end" >104.7789</text>
<text x="83" y="100" font-size="12" fill="#28324d" font-weight="normal" text-anchor="end" >103.9589</text>
<text x="83" y="157" font-size="12" fill="#28324d" font-weight="normal" text-anchor="end" >103.1390</text>
<text x="83" y="214" font-size="12" fill="#28324d" font-weight="normal" text-anchor="end" >102.3190</text>
<text x="83" y="270" font-size="12" fill="#28324d" font-weight="normal" text-anchor="end" >101.4991</text>
<text x="83" y="327" font-size="12" fill="#28324d" font-weight="normal" text-anchor="end" >100.6791</text>
<text x="83" y="384" font-size="12" fill="#28324d" font-weight="normal" text-anchor="end" >99.8592</text>
<text x="83" y="441" font-size="12" fill="#28324d" font-weight="normal" text-anchor="end" >99.0392</text>
<text x="83" y="497" font-size="12" fill="#28324d" font-weight="normal" text-anchor="end" >98.2192</text>
<text x="83" y="554" font-size="12" fill="#28324d" font-weight="normal" text-anchor="end" >97.3993</text>
<text x="83" y="611" font-size="12" fill="#28324d" font-weight="normal" text-anchor="end" >96.5793</text>
<text x="83" y="690" font-size="12" fill="#28324d" font-weight="normal" text-anchor="end" >0.5259</text>
<text x="83" y="713" font-size="12" fill="#28324d" font-weight="normal" text-anchor="end" >0.3955</text>
<text x="83" y="736" font-size="12" fill="#28324d" font-weight="normal" text-anchor="end" >0.2652</text>
<text x="83" y="760" font-size="12" fill="#28324d" font-weight="normal" text-anchor="end" >0.1349</text>
<text x="83" y="783" font-size="12" fill="#28324d" font-weight="normal" text-anchor="end" >0.0046</text>
<text x="83" y="807" font-size="12" fill="#28324d" font-weight="normal" text-anchor="end" >-0.1257</text>
<text x="83" y="830" font-size="12" fill="#28324d" font-weight="normal" text-anchor="end" >-0.2561</text>
<text x="83" y="853" font-size="12" fill="#28324d" font-weight="normal" text-anchor="end" >-0.3864</text>
<text x="83" y="877" font-size="12" fill="#28324d" font-weight="normal" text-anchor="end" >-0.5167</text>
<text x="83" y="900" font-size="12" fill="#28324d" font-weight="normal" text-anchor="end" >-0.6470</text>
<text x="536.5" y="340.8" font-size="12.5" fill="#dd4a3e" font-weight="bold" text-anchor="start" >100.3900</text>
<text x="160.4" y="644.8" font-size="12.5" fill="#5ca05a" font-weight="bold" text-anchor="start" >96.2109</text>
<text x="720.4" y="539" font-size="12.5" fill="#5ca05a" font-weight="bold" text-anchor="start" >97.7479</text>
</g>
</svg>
<div class="btn" style="left:0px;width:66px;"></div>
<div class="btn" style="left:67px;width:70px;"></div>
<div style="position:absolute;left:67px;top:0;width:1px;height:19px;background:#cfd0d9"></div>
<div style="position:absolute;left:66px;top:0;width:1px;height:19px;background:#eff0f5"></div>
<div class="btn" style="left:138px;width:66px;"></div>
<div style="position:absolute;left:138px;top:0;width:1px;height:19px;background:#cfd0d9"></div>
<div style="position:absolute;left:137px;top:0;width:1px;height:19px;background:#eff0f5"></div>
<div class="btn" style="left:205px;width:46px;"></div>
<div style="position:absolute;left:205px;top:0;width:1px;height:19px;background:#cfd0d9"></div>
<div style="position:absolute;left:204px;top:0;width:1px;height:19px;background:#eff0f5"></div>
<div class="btn" style="left:252px;width:46px;"></div>
<div style="position:absolute;left:252px;top:0;width:1px;height:19px;background:#cfd0d9"></div>
<div style="position:absolute;left:251px;top:0;width:1px;height:19px;background:#eff0f5"></div>
<div class="btn" style="left:299px;width:46px;"></div>
<div style="position:absolute;left:299px;top:0;width:1px;height:19px;background:#cfd0d9"></div>
<div style="position:absolute;left:298px;top:0;width:1px;height:19px;background:#eff0f5"></div>
<div class="btn" style="left:346px;width:46px;"></div>
<div style="position:absolute;left:346px;top:0;width:1px;height:19px;background:#cfd0d9"></div>
<div style="position:absolute;left:345px;top:0;width:1px;height:19px;background:#eff0f5"></div>
<div class="btn" style="left:393px;width:27px;"></div>
<div style="position:absolute;left:393px;top:0;width:1px;height:19px;background:#cfd0d9"></div>
<div style="position:absolute;left:392px;top:0;width:1px;height:19px;background:#eff0f5"></div>
<div class="btn" style="left:421px;width:27px;"></div>
<div style="position:absolute;left:421px;top:0;width:1px;height:19px;background:#cfd0d9"></div>
<div style="position:absolute;left:420px;top:0;width:1px;height:19px;background:#eff0f5"></div>
<div class="btn" style="left:449px;width:27px;"></div>
<div style="position:absolute;left:449px;top:0;width:1px;height:19px;background:#cfd0d9"></div>
<div style="position:absolute;left:448px;top:0;width:1px;height:19px;background:#eff0f5"></div>
<div class="btn" style="left:477px;width:27px;"></div>
<div style="position:absolute;left:477px;top:0;width:1px;height:19px;background:#cfd0d9"></div>
<div style="position:absolute;left:476px;top:0;width:1px;height:19px;background:#eff0f5"></div>
<div class="btn" style="left:505px;width:27px;"></div>
<div style="position:absolute;left:505px;top:0;width:1px;height:19px;background:#cfd0d9"></div>
<div style="position:absolute;left:504px;top:0;width:1px;height:19px;background:#eff0f5"></div>
<div class="btn" style="left:533px;width:27px;"></div>
<div style="position:absolute;left:533px;top:0;width:1px;height:19px;background:#cfd0d9"></div>
<div style="position:absolute;left:532px;top:0;width:1px;height:19px;background:#eff0f5"></div>
<div class="btn" style="left:561px;width:27px;"></div>
<div style="position:absolute;left:561px;top:0;width:1px;height:19px;background:#cfd0d9"></div>
<div style="position:absolute;left:560px;top:0;width:1px;height:19px;background:#eff0f5"></div>
<div class="btn" style="left:589px;width:27px;"></div>
<div style="position:absolute;left:589px;top:0;width:1px;height:19px;background:#cfd0d9"></div>
<div style="position:absolute;left:588px;top:0;width:1px;height:19px;background:#eff0f5"></div>
<div class="btn" style="left:617px;width:27px;"></div>
<div style="position:absolute;left:617px;top:0;width:1px;height:19px;background:#cfd0d9"></div>
<div style="position:absolute;left:616px;top:0;width:1px;height:19px;background:#eff0f5"></div>
<div class="btn" style="left:645px;width:27px;"></div>
<div style="position:absolute;left:645px;top:0;width:1px;height:19px;background:#cfd0d9"></div>
<div style="position:absolute;left:644px;top:0;width:1px;height:19px;background:#eff0f5"></div>
<div class="btn" style="left:673px;width:70px;"></div>
<div style="position:absolute;left:673px;top:0;width:1px;height:19px;background:#cfd0d9"></div>
<div style="position:absolute;left:672px;top:0;width:1px;height:19px;background:#eff0f5"></div>
<div class="btn" style="left:744px;width:27px;"></div>
<div style="position:absolute;left:744px;top:0;width:1px;height:19px;background:#cfd0d9"></div>
<div style="position:absolute;left:743px;top:0;width:1px;height:19px;background:#eff0f5"></div>
<div class="btn" style="left:772px;width:46px;"></div>
<div style="position:absolute;left:772px;top:0;width:1px;height:19px;background:#cfd0d9"></div>
<div style="position:absolute;left:771px;top:0;width:1px;height:19px;background:#eff0f5"></div>
<div class="btn" style="left:819px;width:46px;"></div>
<div style="position:absolute;left:819px;top:0;width:1px;height:19px;background:#cfd0d9"></div>
<div style="position:absolute;left:818px;top:0;width:1px;height:19px;background:#eff0f5"></div>
<div class="btn" style="left:866px;width:7px;"></div>
<div style="position:absolute;left:866px;top:0;width:1px;height:19px;background:#cfd0d9"></div>
<div style="position:absolute;left:865px;top:0;width:1px;height:19px;background:#eff0f5"></div>
<div class="t" style="left:299px;width:47px;text-align:center;top:-1.8px;font-size:16px;color:#3b4150">tick</div>
<div class="t" style="left:346px;width:47px;text-align:center;top:-1px;font-size:13px;color:#3b4150">5日</div>
<div class="t" style="left:393px;width:28px;text-align:center;top:-1px;font-size:13px;color:#3b4150">5</div>
<div class="t" style="left:421px;width:28px;text-align:center;top:-1px;font-size:13px;color:#3b4150">15</div>
<div class="t" style="left:449px;width:28px;text-align:center;top:-1px;font-size:13px;color:#3b4150">30</div>
<div class="t" style="left:477px;width:28px;text-align:center;top:-1px;font-size:13px;color:#3b4150">60</div>
<div class="t" style="left:505px;width:28px;text-align:center;top:-1px;font-size:13px;color:#3b4150">2H</div>
<div class="t" style="left:533px;width:28px;text-align:center;top:-1px;font-size:13px;color:#3b4150">4H</div>
<div class="t" style="left:561px;width:28px;text-align:center;top:-1px;font-size:13px;color:#3b4150">日</div>
<div class="t" style="left:589px;width:28px;text-align:center;top:-1px;font-size:13px;color:#3b4150">周</div>
<div class="t" style="left:617px;width:28px;text-align:center;top:-1px;font-size:13px;color:#3b4150">月</div>
<div class="t" style="left:645px;width:28px;text-align:center;top:-1px;font-size:13px;color:#3b4150">年</div>
<svg style="left:10px;top:-1px" width="15" height="13" viewBox="0 0 15 13"><path d="M0.5 5 L6.5 0 L6.5 3 C11 3 14 5 14 9.5 C14 10.8 13.6 11.7 13.2 12.3 C12.6 9 10.5 7.2 6.5 7.2 L6.5 10.2 Z" fill="#353d48"/></svg>
<div class="t" style="left:26px;top:-2px;font-size:13px;color:#3b4150;-webkit-text-stroke:0.2px #3b4150">返回</div>
<svg style="left:81px;top:-1px" width="14" height="13" viewBox="0 0 14 13"><path d="M7 0 L13.5 6.3 L12 6.3 L12 12.7 L8.3 12.7 L8.3 9 L5.7 9 L5.7 12.7 L2 12.7 L2 6.3 L0.5 6.3 Z" fill="#353d48"/></svg>
<div class="t" style="left:98px;top:-2px;font-size:13px;color:#3b4150;-webkit-text-stroke:0.2px #3b4150">首页</div>
<svg style="left:162px;top:-3px" width="22" height="18" viewBox="0 0 22 18"><path d="M11 2.2 A6.8 6.8 0 1 0 14.6 14.2" fill="none" stroke="#353d48" stroke-width="1.8"/><path d="M12.8 1.5 C15.5 2.5 17.2 4.5 17.5 8" fill="none" stroke="#353d48" stroke-width="1.8"/><path d="M14.2 8 L20.2 8 L17.2 12 Z" fill="#353d48"/></svg>
<svg style="left:218px;top:0px" width="21" height="14" viewBox="0 0 21 14"><rect x="1" y="9" width="3.2" height="4" fill="#353d48"/><rect x="6.5" y="5" width="3.2" height="8" fill="#353d48"/><rect x="11.5" y="7" width="3.2" height="6" fill="#353d48"/><rect x="16" y="1.5" width="3.2" height="11.5" fill="#353d48"/><path d="M0.5 7.5 L7 1.5 L12 4.5 L19 -0.5" fill="none" stroke="#353d48" stroke-width="1.5"/></svg>
<svg style="left:264px;top:-1px" width="22" height="15" viewBox="0 0 22 15"><rect x="1" y="3.5" width="3.6" height="5" rx="1" fill="#353d48"/><rect x="6.3" y="0" width="3.6" height="8" rx="1" fill="#353d48"/><rect x="7.6" y="0" width="1.1" height="13.5" fill="#353d48"/><rect x="12" y="6" width="3.4" height="4.5" rx="1" fill="#353d48"/><rect x="13.2" y="2.5" width="1.1" height="10" fill="#353d48"/><rect x="17.6" y="4.5" width="3.4" height="5" rx="1" fill="#353d48"/><rect x="18.8" y="0" width="1.1" height="12" fill="#353d48"/></svg>
<svg style="left:687px;top:-1px" width="15" height="14" viewBox="0 0 15 14"><rect x="0.5" y="0" width="13" height="2.6" rx="1.3" fill="#353d48"/><rect x="0.5" y="5" width="13" height="2.6" rx="1.3" fill="#353d48"/><rect x="0.5" y="10" width="13" height="2.6" rx="1.3" fill="#353d48"/></svg>
<div class="t" style="left:704px;top:-2px;font-size:13px;color:#3b4150;-webkit-text-stroke:0.2px #3b4150">更多</div>
<svg style="left:744px;top:0px" width="28" height="18" viewBox="0 0 28 18"><path d="M10.4 -1 L10 9.6 C9.8 11.8 8.2 12.3 5.6 11.2" fill="none" stroke="#353d48" stroke-width="2"/><path d="M7 3.6 L12.3 3.6" stroke="#353d48" stroke-width="1.7"/><path d="M14.6 5.4 L20.4 11.2 M20.4 5.4 L14.6 11.2" stroke="#353d48" stroke-width="2"/></svg>
<svg style="left:787px;top:-3px" width="18" height="17" viewBox="0 0 18 17"><circle cx="8" cy="7.5" r="6.2" fill="none" stroke="#353d48" stroke-width="1.4"/><path d="M12.6 12 L15.6 15" stroke="#353d48" stroke-width="1.6"/><path d="M4.5 7.3 L11.5 7.3" stroke="#353d48" stroke-width="1.2"/></svg>
<svg style="left:834px;top:-3px" width="18" height="17" viewBox="0 0 18 17"><circle cx="8" cy="7.5" r="6.2" fill="none" stroke="#353d48" stroke-width="1.4"/><path d="M12.6 12 L15.6 15" stroke="#353d48" stroke-width="1.6"/><path d="M4.5 7.3 L11.5 7.3 M8 3.8 L8 10.8" stroke="#353d48" stroke-width="1.2"/></svg>
<div style="position:absolute;left:0;top:19px;width:16px;height:213px;background:#dfe0e8"></div>
<div style="position:absolute;left:15px;top:19px;width:1px;height:213px;background:#e6e9f0"></div>
<div style="position:absolute;left:0;top:70px;width:15px;height:46px;background:#ff6a00"></div>
<div style="position:absolute;left:0;top:68px;width:15px;height:1px;background:#cfd8e4"></div>
<div style="position:absolute;left:0;top:116px;width:15px;height:1px;background:#cfd8e4"></div>
<div style="position:absolute;left:0;top:168px;width:15px;height:1px;background:#cfd8e4"></div>
<div class="t" style="left:-1px;top:26px;width:13px;text-align:center;font-size:13px;color:#252c3a;-webkit-text-stroke:0.25px #252c3a">分</div>
<div class="t" style="left:-1px;top:40px;width:13px;text-align:center;font-size:13px;color:#252c3a;-webkit-text-stroke:0.25px #252c3a">时</div>
<div class="t" style="left:-1px;top:53.7px;width:13px;text-align:center;font-size:13px;color:#252c3a;-webkit-text-stroke:0.25px #252c3a">图</div>
<div class="t" style="left:-1px;top:124px;width:13px;text-align:center;font-size:13px;color:#252c3a;-webkit-text-stroke:0.25px #252c3a">闪</div>
<div class="t" style="left:-1px;top:138.5px;width:13px;text-align:center;font-size:13px;color:#252c3a;-webkit-text-stroke:0.25px #252c3a">电</div>
<div class="t" style="left:-1px;top:152.6px;width:13px;text-align:center;font-size:13px;color:#252c3a;-webkit-text-stroke:0.25px #252c3a">图</div>
<div class="t" style="left:-1px;top:175.8px;width:13px;text-align:center;font-size:13px;color:#252c3a;-webkit-text-stroke:0.25px #252c3a">合</div>
<div class="t" style="left:-1px;top:190.3px;width:13px;text-align:center;font-size:13px;color:#252c3a;-webkit-text-stroke:0.25px #252c3a">约</div>
<div class="t" style="left:-1px;top:204px;width:13px;text-align:center;font-size:13px;color:#252c3a;-webkit-text-stroke:0.25px #252c3a">资</div>
<div class="t" style="left:-1px;top:218.2px;width:13px;text-align:center;font-size:13px;color:#252c3a;-webkit-text-stroke:0.25px #252c3a">料</div>
<div class="t" style="left:-1px;top:75px;width:15px;text-align:center;font-size:12px;color:#fff;font-family:Liberation Serif,serif">K</div>
<div class="t" style="left:-1px;top:89px;width:13px;text-align:center;font-size:13px;color:#fff;-webkit-text-stroke:0.25px #fff">线</div>
<div class="t" style="left:-1px;top:103.8px;width:13px;text-align:center;font-size:13px;color:#fff;-webkit-text-stroke:0.25px #fff">图</div>
<div class="t" style="left:88px;top:22.5px;font-size:12px;color:#000;-webkit-text-stroke:0.1px #000">美元指数</div>
<div class="t" style="left:135px;top:22.5px;font-size:12.5px;color:#ff7f00">【日线】</div>
<svg style="left:184px;top:26px" width="10" height="10" viewBox="0 0 10 10"><circle cx="4.7" cy="4.4" r="4.1" fill="none" stroke="#ff8a1a" stroke-width="0.8"/><path d="M0.6 4.4 H8.8 M4.7 0.3 V8.5" stroke="#ff8a1a" stroke-width="0.8"/></svg>
<svg style="left:201px;top:20px" width="13" height="14" viewBox="0 0 13 14"><rect x="0.5" y="0.5" width="11" height="12" fill="#fff" stroke="#10108a" stroke-width="1"/><rect x="11" y="0" width="1.6" height="13.2" fill="#10108a"/><rect x="0" y="11.8" width="12.6" height="1.4" fill="#10108a"/><path d="M1.1 7.6 L4.5 3.3 L7.4 6.5 L10.7 4.4" fill="none" stroke="#f00" stroke-width="1.1"/><path d="M1.1 10.6 L4.5 6.5 L7.4 9.7 L10.7 7.4" fill="none" stroke="#00f" stroke-width="1.1"/></svg>
<div class="t" style="left:216px;top:23px;font-size:12.5px;color:#000">MA1(50,0,200,0)</div>
<div class="t" style="left:313px;top:23px;font-size:12.5px;color:#000">MA50:99.1207</div>
<div class="t" style="left:404px;top:23px;font-size:12.5px;color:#14148c">MA0:98.0980</div>
<div class="t" style="left:486px;top:23px;font-size:12.5px;color:#ff00ff">MA200:99.0186</div>
<div class="t" style="left:583px;top:23px;font-size:12.5px;color:#ff7f00">MA0:98.0980</div>
<svg style="left:0;top:0" width="40" height="690" shape-rendering="crispEdges"><rect x="18" y="671" width="2" height="1" fill="#f00"/><rect x="30" y="671" width="2" height="1" fill="#f00"/><rect x="24" y="665" width="1" height="2" fill="#f00"/><rect x="24" y="677" width="1" height="2" fill="#f00"/><rect x="19" y="666" width="1" height="1" fill="#f00"/><rect x="20" y="667" width="1" height="1" fill="#f00"/><rect x="29" y="666" width="1" height="1" fill="#f00"/><rect x="28" y="667" width="1" height="1" fill="#f00"/><rect x="19" y="677" width="1" height="1" fill="#f00"/><rect x="20" y="676" width="1" height="1" fill="#f00"/><rect x="29" y="677" width="1" height="1" fill="#f00"/><rect x="28" y="676" width="1" height="1" fill="#f00"/><g shape-rendering="auto"><circle cx="24.8" cy="671.7" r="3.9" fill="none" stroke="#000" stroke-width="1.1"/><circle cx="24.8" cy="671.7" r="1.9" fill="#f00"/></g></svg>
<div class="t" style="left:88.5px;top:669.2px;font-size:12.2px;color:#000">MACD(13,8,9) DIFF:-0.1462</div>
<div class="t" style="left:250px;top:669px;font-size:12.5px;color:#14148c">DEA:-0.1598</div>
<div class="t" style="left:328px;top:669px;font-size:12.5px;color:#ff00ff">MACD:0.0271</div>
<div style="position:absolute;left:16px;top:920px;width:68px;height:18px;border:1px solid #d5dae3;background:#fff"></div>
<div class="t" style="left:30px;top:925.5px;font-size:12.5px;color:#ff7200;-webkit-text-stroke:0.5px #ff7200">日线</div>
<svg style="left:0;top:0" width="80" height="941"><path d="M60.6 935.2 L69 935.2 L64.8 927 Z" fill="#ff7200"/></svg>
<div style="position:absolute;left:16px;top:940px;width:39px;height:1px;background:#ff6a00"></div>
<div style="position:absolute;left:55px;top:940px;width:817px;height:1px;background:#c8ccd6"></div>
<div style="position:absolute;left:109px;top:921px;width:109px;height:16px;border-left:1px solid #e4e9ee;border-right:1px solid #e4e9ee"></div>
<div style="position:absolute;left:86px;top:937px;width:786px;height:1px;background:#e6ecf1"></div>
<div class="t" style="left:111px;top:923px;font-size:12.5px;color:#ff7f00">2025/09/09 星期二</div>
<div style="position:absolute;left:235px;top:920px;width:1px;height:5px;background:#b8c0cc"></div>
<div class="t" style="left:237px;top:923px;font-size:12.5px;color:#1e2535;font-weight:bold">2025/10</div>
<div style="position:absolute;left:419px;top:920px;width:1px;height:5px;background:#b8c0cc"></div>
<div class="t" style="left:421px;top:923px;font-size:12.5px;color:#1e2535;font-weight:bold">2025/11</div>
<div style="position:absolute;left:579px;top:920px;width:1px;height:5px;background:#b8c0cc"></div>
<div class="t" style="left:581px;top:923px;font-size:12.5px;color:#1e2535;font-weight:bold">2025/12</div>
<div class="t" style="left:742px;top:889px;font-size:31px;letter-spacing:2.1px;color:#d9e8f9;text-shadow:1px 1px 0 #c4b2a2;-webkit-text-stroke:0.3px #d9e8f9">FX678</div>
</body></html>
